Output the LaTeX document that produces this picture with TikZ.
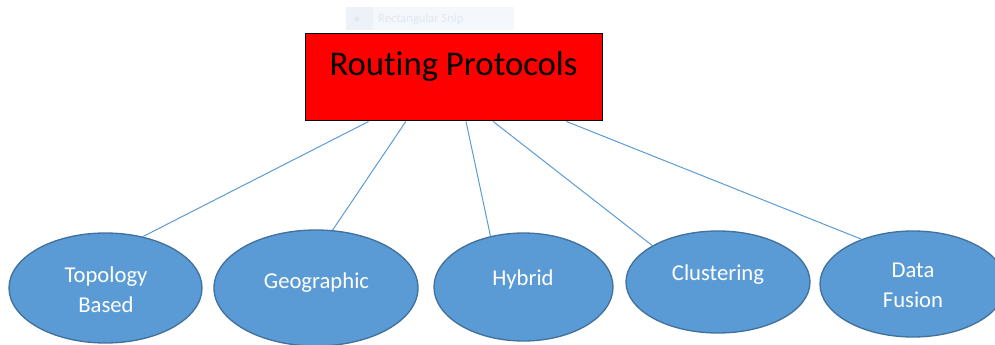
\documentclass[tikz,border=0pt]{standalone}
\usepackage{fontspec}
\setmainfont{Carlito}[Ligatures=CommonOff]
\usetikzlibrary{shapes.geometric,calc}
\definecolor{leafblue}{HTML}{5B9BD5}
\definecolor{leafedge}{HTML}{41719C}
\definecolor{rootred}{HTML}{FF0000}
\definecolor{snipbg}{HTML}{F4F8FD}
\definecolor{snipicon}{HTML}{EDF2F9}
\definecolor{sniptext}{HTML}{E2E8EF}
\tikzset{
  rootbox/.style={draw=black, line width=0.75pt, fill=rootred, inner sep=0pt},
  leaf/.style={ellipse, draw=leafedge, line width=1pt, fill=leafblue, inner sep=0pt},
  leaftext/.style={text=white, font=\fontsize{17}{22.5}\selectfont, align=center, anchor=base, inner sep=0pt},
  link/.style={draw=leafblue, line width=0.75pt},
}
\begin{document}
\begin{tikzpicture}[x=0.75pt, y=-0.75pt]
\useasboundingbox (0,0) rectangle (995,345);

% faint snipping-tool tooltip
\fill[snipbg] (346,7) rectangle (514,30);
\fill[snipicon] (346,7) rectangle (373,30);
\fill[sniptext] (357,19) circle (2.5);
\node[anchor=base west, inner sep=0pt, text=sniptext, font=\fontsize{9.4}{11}\selectfont] (snip) at (378,23) {Rectangular Snip};

% root box
\node[rootbox, minimum width=222.75pt, minimum height=65.25pt] (root) at (453.5,77.5) {};
\node[anchor=base, inner sep=0pt, font=\fontsize{26}{30}\selectfont] (rootlabel) at (453.5,76) {Routing Protocols};

% leaves
\node[leaf, minimum width=144.75pt, minimum height=82.5pt] (topo) at (105.5,288) {};
\node[leaf, minimum width=153pt, minimum height=87pt] (geo) at (316,288) {};
\node[leaf, minimum width=134.25pt, minimum height=81pt] (hyb) at (523.5,287) {};
\node[leaf, minimum width=138pt, minimum height=76.5pt] (clu) at (718,282) {};
\node[leaf, minimum width=139.5pt, minimum height=79.5pt] (fus) at (913,284) {};

% labels (two-line labels sit on the baseline of their last line)
\node[leaftext] (topotext) at (106,312) {Topology\\Based};
\node[leaftext] (geotext) at (316.5,288) {Geographic};
\node[leaftext] (hybtext) at (523,286) {Hybrid};
\node[leaftext] (clutext) at (718,280) {Clustering};
\node[leaftext] (fustext) at (913,307) {Data\\Fusion};

% connectors
\draw[link] ($(root.south west)!0.215!(root.south east)$) -- (topo.54);
\draw[link] ($(root.south west)!0.340!(root.south east)$) -- (geo.74.6);
\draw[link] ($(root.south west)!0.542!(root.south east)$) -- (hyb.123.8);
\draw[link] ($(root.south west)!0.633!(root.south east)$) -- (clu.151.4);
\draw[link] ($(root.south west)!0.879!(root.south east)$) -- (fus.139.1);
\end{tikzpicture}
\end{document}
